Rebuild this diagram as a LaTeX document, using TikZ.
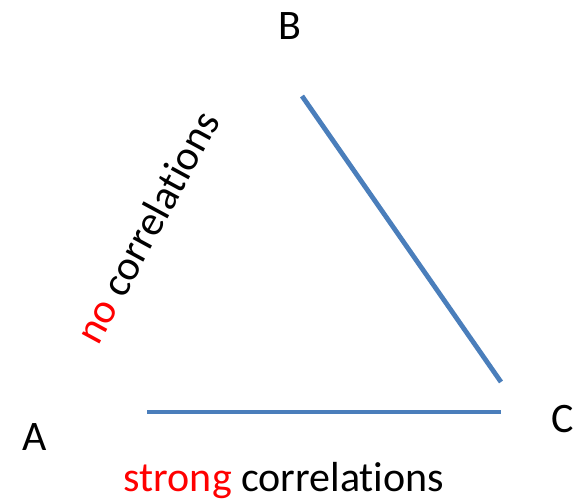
\documentclass[tikz,border=0pt]{standalone}
\usepackage{fontspec}
\setmainfont{Carlito}[Ligatures=NoCommon]
\definecolor{edgeblue}{RGB}{74,126,187}
\begin{document}
\begin{tikzpicture}[x=1pt,y=-1pt,
  lbl/.style={font=\fontsize{42}{50}\selectfont, inner sep=0pt},
  edge/.style={draw=edgeblue, line width=4.8pt}]
\useasboundingbox (0,0) rectangle (578,502);
\node[lbl, anchor=base] (B) at (290,40) {B};
\node[lbl, anchor=base] (A) at (35,450) {A};
\node[lbl, anchor=base] (C) at (563,432) {C};
\coordinate (b1) at (302,96);
\coordinate (c1) at (501,382);
\coordinate (a2) at (147,412);
\coordinate (c2) at (501,412);
\draw[edge] (b1) -- (c1);
\draw[edge] (a2) -- (c2);
\node[lbl, anchor=base] (sc) at (284,491) {\textcolor{red}{strong} correlations};
\node[lbl, rotate=61.5] (nc) at (147,227) {\textcolor{red}{no} correlations};
\end{tikzpicture}
\end{document}
